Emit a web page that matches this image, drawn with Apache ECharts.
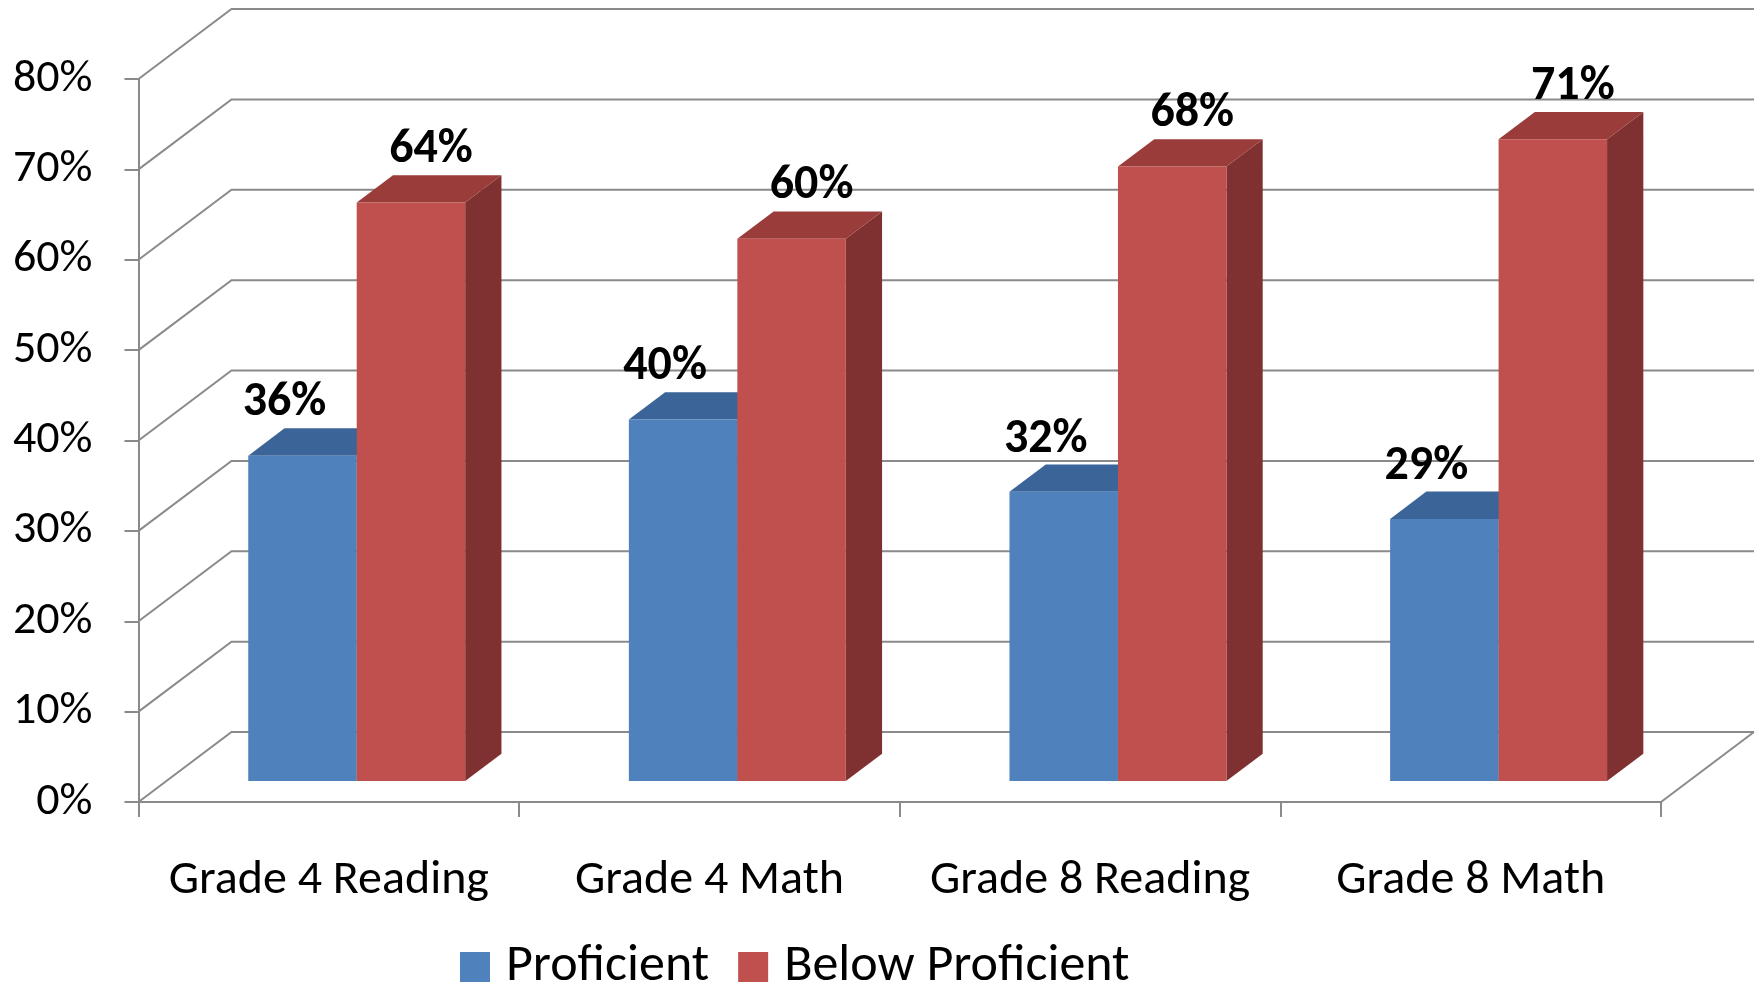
<!DOCTYPE html>
<html>
<head>
<meta charset="utf-8">
<title>Proficiency</title>
<script src="https://cdn.jsdelivr.net/npm/echarts@6/dist/echarts.min.js"></script>
<style>
html,body{margin:0;padding:0;background:#fff;}
#main{width:1758px;height:986px;}
</style>
</head>
<body>
<div id="main"></div>
<script>
var categories = ['Grade 4 Reading', 'Grade 4 Math', 'Grade 8 Reading', 'Grade 8 Math'];
var proficient = [36, 40, 32, 29];
var belowProficient = [64, 60, 68, 71];
var yTicks = [0, 10, 20, 30, 40, 50, 60, 70, 80];

var DX = 93, DY = -70;          // depth of the 3d box
var FRONT = 0.3, DEPTH = 0.39;  // bars stand in the middle of the depth
var BAR = 0.285;                // bar width, share of a category
var FONT = 'Carlito, Calibri, Lato, sans-serif';
var LINE = '#8a8a8a';

var wallData = yTicks.map(function(v){ return [0, v]; });
function pairs(arr){ return arr.map(function(v, i){ return [i, v]; }); }

function renderWall(params, api){
	var cs = params.coordSys;
	var v = api.value(1);
	var y = api.coord([0, v])[1];
	var x0 = cs.x, x1 = cs.x + cs.width;
	var kids = [{
		type: 'polyline',
		shape: {points: [[x0, y], [x0 + DX, y + DY], [x1 + DX, y + DY]]},
		style: {stroke: LINE, lineWidth: 2, fill: null}
	}];
	if(v === 0){
		kids.push({type: 'line', shape: {x1: x1, y1: y, x2: x1 + DX, y2: y + DY}, style: {stroke: LINE, lineWidth: 2}});
	}
	return {type: 'group', children: kids};
}

function makeBars(side, c, labelDx){
	return function(params, api){
		var i = api.value(0), v = api.value(1);
		var band = api.size([1, 0])[0];
		var w = band * BAR;
		var base = api.coord([i, 0]);
		var top = api.coord([i, v]);
		var dx = DEPTH * DX, dy = DEPTH * DY;
		var xl = base[0] + FRONT * DX + (side < 0 ? -w : 0);
		var xr = xl + w;
		var yb = base[1] + FRONT * DY, yt = top[1] + FRONT * DY;
		return {type: 'group', children: [
			{type: 'polygon', shape: {points: [[xr, yt], [xr + dx, yt + dy], [xr + dx, yb + dy], [xr, yb]]}, style: {fill: c.side}},
			{type: 'polygon', shape: {points: [[xl, yt], [xr, yt], [xr + dx, yt + dy], [xl + dx, yt + dy]]}, style: {fill: c.top}},
			{type: 'rect', shape: {x: xl, y: yt, width: w, height: yb - yt}, style: {fill: c.front}},
			{type: 'text', x: (xl + xr) / 2 + labelDx, y: yt + dy - 25,
				style: {text: v + '%', fontSize: 48, fontWeight: 'bold', fontFamily: FONT, fill: '#000', align: 'center', verticalAlign: 'middle'}}
		]};
	};
}

var blue = {front: '#4F81BD', top: '#3B6498', side: '#2F5480'};
var red = {front: '#C0504D', top: '#9A3C39', side: '#7E3130'};

var myChart = echarts.init(document.getElementById('main'));
var option = {
	animation: false,
	textStyle: {fontFamily: FONT},
	grid: {left: 138.5, right: 97, top: 79, bottom: 184},
	legend: {
		data: ['Proficient', 'Below Proficient'],
		left: 460, top: 941, padding: 0,
		icon: 'rect', itemWidth: 30, itemHeight: 30, itemGap: 29,
		textStyle: {fontSize: 52, lineHeight: 52, color: '#000', fontFamily: FONT, padding: [0, 0, 0, 11]}
	},
	xAxis: {
		type: 'category',
		data: categories,
		axisLine: {lineStyle: {color: LINE, width: 2}},
		axisTick: {show: true, interval: 0, length: 15, lineStyle: {color: LINE, width: 2}},
		axisLabel: {interval: 0, fontSize: 48, color: '#000', margin: 55, fontFamily: FONT}
	},
	yAxis: {
		type: 'value',
		min: 0, max: 80, interval: 10,
		axisLine: {show: true, lineStyle: {color: LINE, width: 2}},
		axisTick: {show: true, length: 14, lineStyle: {color: LINE, width: 2}},
		splitLine: {show: false},
		axisLabel: {formatter: '{value}%', fontSize: 46, color: '#000', margin: 46, fontFamily: FONT}
	},
	series: [
		{type: 'custom', name: 'wall', z: 1, silent: true, renderItem: renderWall, data: wallData},
		{type: 'custom', name: 'Proficient', z: 2, itemStyle: {color: blue.front}, renderItem: makeBars(-1, blue, -18), data: pairs(proficient)},
		{type: 'custom', name: 'Below Proficient', z: 3, itemStyle: {color: red.front}, renderItem: makeBars(1, red, 20), data: pairs(belowProficient)}
	]
};
myChart.setOption(option);
</script>
</body>
</html>
